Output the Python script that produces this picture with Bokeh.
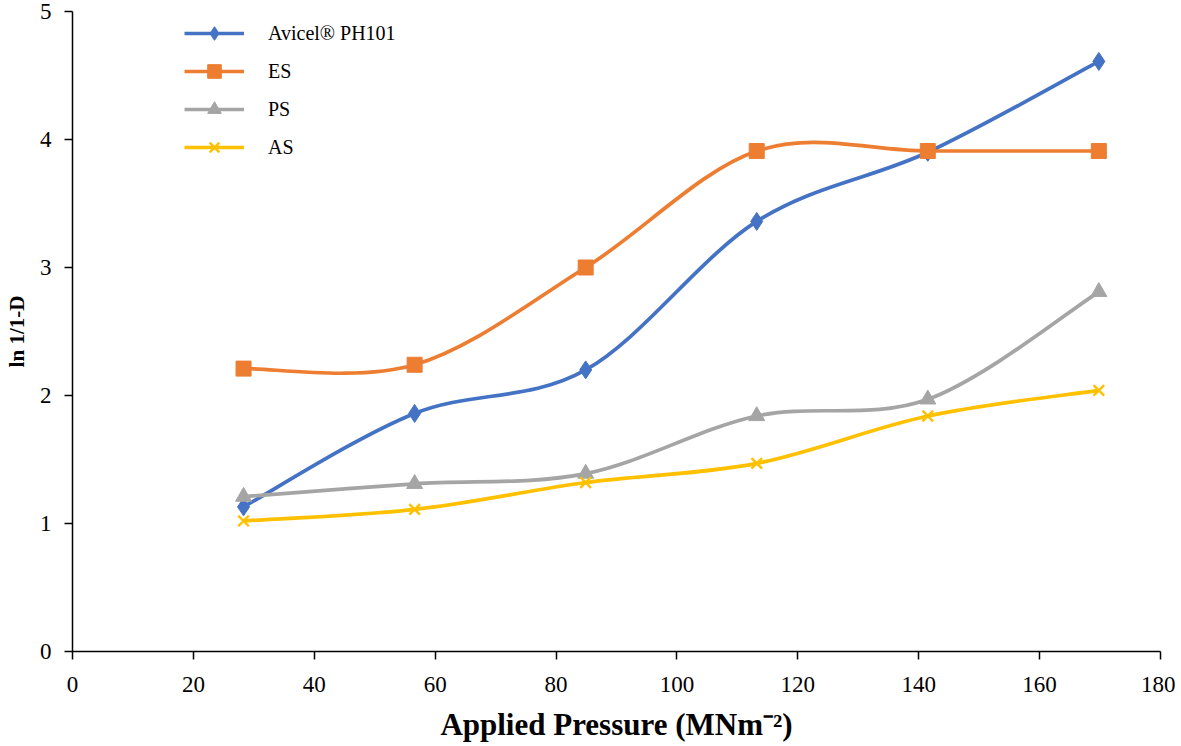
from bokeh.plotting import figure
from bokeh.models import Legend, LegendItem, Range1d, FixedTicker
from bokeh.embed import file_html
from bokeh.resources import INLINE

pressure = [28.3, 56.6, 84.9, 113.2, 141.5, 169.8]
avicel = [1.13, 1.86, 2.20, 3.36, 3.90, 4.61]
es = [2.21, 2.24, 3.00, 3.91, 3.91, 3.91]
ps = [1.21, 1.31, 1.39, 1.84, 1.97, 2.81]
as_ = [1.02, 1.11, 1.32, 1.47, 1.84, 2.04]

series = [
    ("Avicel\u00ae PH101", avicel, "#4472C4", "diamond", 18),
    ("ES", es, "#ED7D31", "square", 15),
    ("PS", ps, "#A5A5A5", "triangle", 16),
    ("AS", as_, "#FFC000", "x", 15),
]

SERIF = "Liberation Serif"

p = figure(width=1175, height=744, output_backend="svg", toolbar_location=None,
           x_range=Range1d(0, 180), y_range=Range1d(0, 5),
           min_border_left=72, min_border_right=15, min_border_top=11, min_border_bottom=92)
p.outline_line_color = None
p.xgrid.grid_line_color = None
p.ygrid.grid_line_color = None

for ax in (p.xaxis[0], p.yaxis[0]):
    ax.axis_line_color = "black"
    ax.axis_line_width = 1.5
    ax.major_tick_line_color = "black"
    ax.major_tick_line_width = 1.5
    ax.major_tick_out = 8
    ax.major_tick_in = 0
    ax.minor_tick_line_color = None
    ax.major_label_text_font = SERIF
    ax.major_label_text_font_size = "23px"
    ax.major_label_text_color = "black"
    ax.axis_label_text_font = SERIF
    ax.axis_label_text_font_style = "bold"
    ax.axis_label_text_color = "black"

p.xaxis.ticker = FixedTicker(ticks=list(range(0, 181, 20)))
p.yaxis.ticker = FixedTicker(ticks=[0, 1, 2, 3, 4, 5])
p.xaxis.axis_label = "Applied Pressure (MNm\u207b\u00b2)"
p.xaxis.axis_label_text_font_size = "31px"
p.xaxis.major_label_standoff = 17
p.xaxis.axis_label_standoff = 12
p.yaxis.axis_label = "ln 1/1-D"
p.yaxis.axis_label_text_font_size = "21px"
p.yaxis.major_label_standoff = 13
p.yaxis.axis_label_standoff = 8


def smooth_segments(xs, ys):
    n = len(xs)
    x0, y0, x1, y1, cx0, cy0, cx1, cy1 = [], [], [], [], [], [], [], []
    for i in range(n - 1):
        im = max(i - 1, 0)
        ip = min(i + 2, n - 1)
        x0.append(xs[i]); y0.append(ys[i])
        x1.append(xs[i + 1]); y1.append(ys[i + 1])
        cx0.append(xs[i] + (xs[i + 1] - xs[im]) / 6.0)
        cy0.append(ys[i] + (ys[i + 1] - ys[im]) / 6.0)
        cx1.append(xs[i + 1] - (xs[ip] - xs[i]) / 6.0)
        cy1.append(ys[i + 1] - (ys[ip] - ys[i]) / 6.0)
    return dict(x0=x0, y0=y0, x1=x1, y1=y1, cx0=cx0, cy0=cy0, cx1=cx1, cy1=cy1)


items = []
for label, vals, color, marker, size in series:
    seg = smooth_segments(pressure, vals)
    r_line = p.bezier(x0="x0", y0="y0", x1="x1", y1="y1", cx0="cx0", cy0="cy0",
                      cx1="cx1", cy1="cy1", source=seg, line_color=color, line_width=3.7)
    if marker == "x":
        r_m = p.scatter(pressure, vals, marker=marker, size=size, line_color=color,
                        line_width=2.4)
    else:
        r_m = p.scatter(pressure, vals, marker=marker, size=size, fill_color=color,
                        line_color=color)
    items.append(LegendItem(label=label, renderers=[r_line, r_m]))

legend = Legend(items=items, location=(112, 487), padding=0, margin=0,
                border_line_color=None, background_fill_alpha=0,
                glyph_width=60, glyph_height=34, label_height=20, spacing=4,
                label_standoff=24, label_text_font=SERIF,
                label_text_font_size="20px", label_text_color="black")
p.add_layout(legend)

open("out.html", "w").write(file_html(p, INLINE))
